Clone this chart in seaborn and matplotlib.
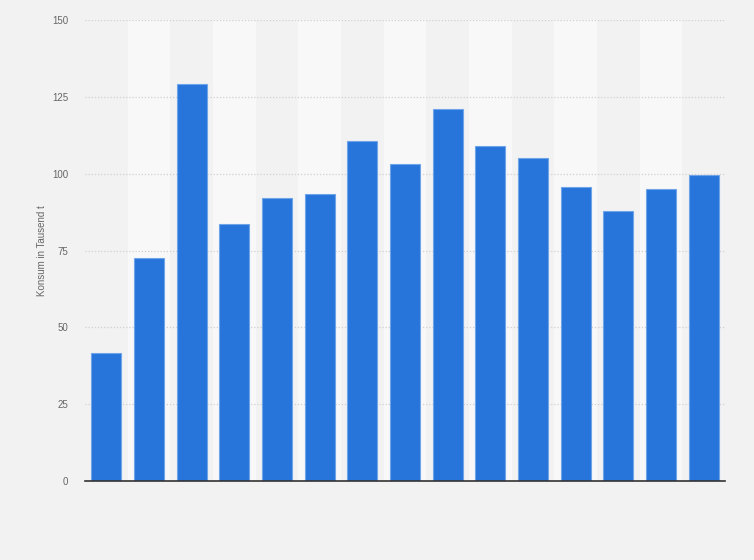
import numpy as np
import matplotlib
matplotlib.use('Agg')
import matplotlib.pyplot as plt
import seaborn as sns
import pandas as pd

kategorien = [str(j) for j in range(2005, 2020)]
konsum = [41.7, 72.5, 129.1, 83.6, 92.0, 93.3, 110.7, 103.1, 121.0,
          109.0, 105.0, 95.6, 87.8, 95.0, 99.5]

sns.set_theme(style='white')
plt.rcParams['font.family'] = ['Liberation Sans', 'DejaVu Sans']

df = pd.DataFrame({'kategorie': kategorien, 'konsum': konsum})

fig = plt.figure(figsize=(7.54, 5.6), dpi=100, facecolor='#f2f2f2')
ax = fig.add_axes([0.1127, 0.141, 0.8488, 0.823])
ax.set_facecolor('#f2f2f2')

# abwechselnde Spaltenstreifen
for i in range(1, len(kategorien), 2):
    ax.axvspan(i - 0.5, i + 0.5, color='#f8f8f8', zorder=0, lw=0)

sns.barplot(data=df, x='kategorie', y='konsum', color='#2775db', saturation=1,
            width=0.7, edgecolor='#6fa3ea', linewidth=0.8, ax=ax, zorder=3)

ax.set_xlim(-0.5, len(kategorien) - 0.5)
ax.set_ylim(0, 150)
ax.set_yticks([0, 25, 50, 75, 100, 125, 150])
ax.yaxis.grid(True, linestyle=(0, (1, 1.5)), color='#d0d0d0', linewidth=0.9, zorder=1)
ax.set_axisbelow(True)
ax.set_xticks(range(len(kategorien)))
ax.set_xticklabels([])
ax.tick_params(axis='x', length=0)
ax.tick_params(axis='y', length=0, labelsize=7, labelcolor='#666666', pad=12)

for s in ['top', 'right', 'left']:
    ax.spines[s].set_visible(False)
ax.spines['bottom'].set_color('#333333')
ax.spines['bottom'].set_linewidth(1.2)
ax.spines['bottom'].set_zorder(5)

ax.set_xlabel('')
ax.set_ylabel('Konsum in Tausend t', fontsize=7, color='#666666', labelpad=4)

fig.savefig('out.png', dpi=100, facecolor=fig.get_facecolor())
